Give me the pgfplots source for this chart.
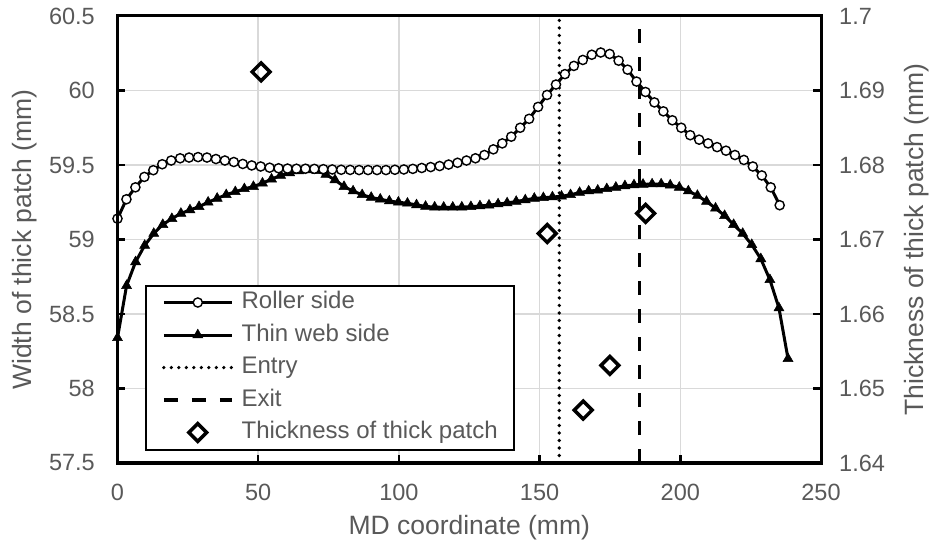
\documentclass[border=0pt]{standalone}
\usepackage{fontspec}
\setmainfont{Liberation Sans}
\usepackage{pgfplots}
\usepackage{pgfplotstable}
\pgfplotsset{compat=1.18}
\definecolor{txt}{HTML}{595959}
\definecolor{grd}{HTML}{D9D9D9}

\pgfplotstableread{
x y
0 59.14
3.18 59.27
6.36 59.35
9.54 59.42
12.72 59.465
15.90 59.505
19.08 59.53
22.26 59.545
25.44 59.55
28.62 59.553
31.80 59.55
34.98 59.54
38.16 59.53
41.34 59.52
44.52 59.507
47.70 59.497
50.88 59.49
54.06 59.482
57.24 59.478
60.42 59.476
63.60 59.475
66.78 59.475
69.96 59.474
73.14 59.472
76.32 59.47
79.50 59.468
82.68 59.467
85.86 59.466
89.04 59.466
92.22 59.466
95.40 59.466
98.58 59.468
101.76 59.47
104.94 59.474
108.12 59.48
111.30 59.486
114.48 59.493
117.66 59.503
120.84 59.515
124.02 59.53
127.20 59.545
130.38 59.567
133.56 59.605
136.74 59.645
139.92 59.69
143.10 59.75
146.28 59.81
149.46 59.89
152.64 59.97
155.82 60.04
159.00 60.11
162.18 60.165
165.36 60.205
168.54 60.24
171.72 60.255
174.90 60.245
178.08 60.2
181.26 60.14
184.44 60.06
187.62 59.99
190.80 59.92
193.98 59.86
197.16 59.80
200.34 59.75
203.52 59.70
206.70 59.67
209.88 59.645
213.06 59.62
216.24 59.596
219.42 59.567
222.60 59.534
225.78 59.49
228.96 59.43
232.14 59.35
235.32 59.23
}\roller

\pgfplotstableread{
x y
0 58.34
3.22 58.69
6.44 58.85
9.66 58.96
12.88 59.04
16.10 59.10
19.32 59.14
22.54 59.175
25.76 59.198
28.98 59.22
32.20 59.25
35.42 59.276
38.64 59.30
41.86 59.32
45.08 59.34
48.30 59.355
51.52 59.378
54.74 59.405
57.96 59.43
61.18 59.447
64.40 59.46
67.62 59.466
70.84 59.462
74.06 59.436
77.28 59.40
80.50 59.355
83.72 59.325
86.94 59.30
90.16 59.282
93.38 59.27
96.60 59.258
99.82 59.25
103.04 59.243
106.26 59.232
109.48 59.222
112.70 59.217
115.92 59.216
119.14 59.216
122.36 59.217
125.58 59.22
128.80 59.225
132.02 59.23
135.24 59.238
138.46 59.245
141.68 59.255
144.90 59.265
148.12 59.276
151.34 59.28
154.56 59.285
157.78 59.29
161.00 59.30
164.22 59.315
167.44 59.325
170.66 59.33
173.88 59.34
177.10 59.35
180.32 59.36
183.54 59.366
186.76 59.37
189.98 59.372
193.20 59.372
196.42 59.365
199.64 59.35
202.86 59.325
206.08 59.295
209.30 59.255
212.52 59.21
215.74 59.16
218.96 59.10
222.18 59.04
225.40 58.965
228.62 58.87
231.84 58.73
235.06 58.54
238.28 58.20
}\thinweb

\pgfplotstableread{
x t
51.0 1.6925
152.7 1.6708
165.5 1.6471
175.0 1.6531
187.7 1.6735
}\thick

\pgfplotsset{
  common/.style={
    scale only axis, width=703.5pt, height=447pt,
    xmin=0, xmax=250, clip=false,
    axis line style={line width=3pt, black},
    tick style={line width=2.5pt, black},
    major tick length=8pt, tick align=inside,
    ticklabel style={font=\fontsize{23.5}{28}\selectfont, text=txt},
    /pgf/number format/assume math mode=true,
    label style={font=\fontsize{26.5}{32}\selectfont, text=txt},
  },
  rollerstyle/.style={black, line width=3pt, mark=*, mark size=4.6pt,
    mark options={fill=white, draw=black, line width=1.4pt, solid}},
  thinstyle/.style={black, line width=3pt, mark=triangle*, mark size=5.8pt,
    mark options={fill=black, draw=black, line width=0.5pt, solid}},
  entrystyle/.style={black, line width=3.6pt, line cap=round, dash pattern=on 0pt off 7.5pt},
  exitstyle/.style={black, line width=3.3pt, dash pattern=on 14pt off 14pt},
}

\begin{document}
\begin{tikzpicture}
\path[use as bounding box] (-117.5pt,-78pt) rectangle (812.5pt,463pt);
\begin{axis}[common,
  ymin=57.5, ymax=60.5,
  ytick={57.5,58,58.5,59,59.5,60,60.5},
  xtick={0,50,100,150,200,250},
  xtick pos=bottom, ytick pos=left,
  grid=major, grid style={grd, line width=1.5pt},
  yticklabel style={anchor=east, inner sep=0pt, xshift=-22.5pt},
  xticklabel style={anchor=north, inner sep=0pt, yshift=-20.5pt},
  xlabel={MD coordinate (mm)},
  ylabel={Width of thick patch (mm)},
  xlabel style={at={(axis description cs:0.5,-0.1454)}, anchor=center},
  ylabel style={at={(axis description cs:-0.1315,0.5)}, anchor=center},
]
\addplot[entrystyle] coordinates {(157,57.5) (157,60.5)};
\addplot[exitstyle] coordinates {(185.6,57.5) (185.6,60.5)};
\addplot[thinstyle] table[x=x,y=y] {\thinweb};
\addplot[rollerstyle] table[x=x,y=y] {\roller};
\end{axis}
\begin{axis}[common,
  ymin=1.64, ymax=1.7,
  ytick={1.64,1.65,1.66,1.67,1.68,1.69,1.7},
  xtick=\empty, ytick pos=right, yticklabel pos=right,
  yticklabel style={anchor=west, inner sep=0pt, xshift=18pt},
  ylabel={Thickness of thick patch (mm)},
  ylabel style={at={(axis description cs:1.1365,0.5)}, anchor=center},
  legend cell align=left,
  legend style={at={(axis description cs:0.0391,0.3993)}, anchor=north west,
    draw=black, line width=2pt, fill=white,
    font=\fontsize{24}{28}\selectfont, text=txt,
    inner xsep=16pt, inner ysep=6pt, row sep=10.5pt,
    nodes={inner sep=0pt, text height=17pt, text depth=5pt}},
  legend image code/.code={\draw[mark repeat=2, mark phase=2, #1] plot coordinates {(0pt,0pt) (34pt,0pt) (68pt,0pt)}; \path (76pt,0pt);},
]
\addlegendimage{rollerstyle}
\addlegendentry{Roller side}
\addlegendimage{thinstyle}
\addlegendentry{Thin web side}
\addlegendimage{entrystyle}
\addlegendentry{Entry}
\addlegendimage{exitstyle}
\addlegendentry{Exit}
\addplot[only marks, mark=square, mark size=6.3pt, mark options={rotate=45, draw=black, line width=3.5pt, solid, fill=white}] table[x=x,y=t] {\thick};
\addlegendentry{Thickness of thick patch}
\end{axis}
\end{tikzpicture}
\end{document}
